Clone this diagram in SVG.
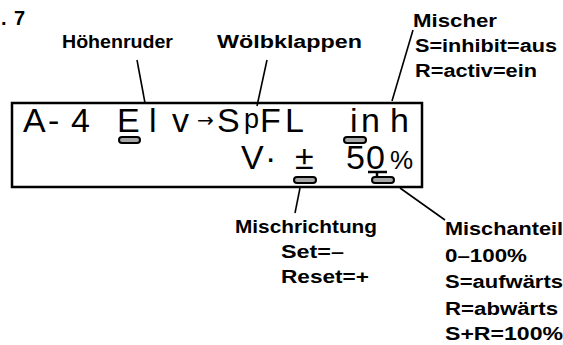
<svg xmlns="http://www.w3.org/2000/svg" width="563" height="345" viewBox="0 0 563 345">
<style>
.lbl{font-family:"Liberation Sans",Arial,sans-serif;font-size:17.5px;font-weight:bold;fill:#000}
.lcd{font-family:"Liberation Sans",Arial,sans-serif;font-size:34px;fill:#000}
.arr{font-family:"DejaVu Sans",sans-serif;font-size:20px}
.ln{stroke:#000;stroke-width:1.6;fill:none}
.mk{fill:#a8a8a8;stroke:#000;stroke-width:2}
</style>
<rect width="563" height="345" fill="#fff"/>
<text class="lbl" style="font-size:20px" x="1 8 14" y="25">. 7</text>
<g id="lcd">
<rect x="12" y="103" width="410" height="84" fill="#fff" stroke="#000" stroke-width="2.5"/>
<text class="lcd" y="132"><tspan x="23">A</tspan><tspan x="48">-</tspan><tspan x="71">4</tspan><tspan x="117">E</tspan><tspan x="149">l</tspan><tspan x="172">v</tspan><tspan class="arr" x="197" y="127">→</tspan><tspan x="217" y="132">S</tspan><tspan x="244" y="128" style="font-size:27px">p</tspan><tspan x="260" y="132">F</tspan><tspan x="285">L</tspan><tspan x="350">i</tspan><tspan x="361">n</tspan><tspan x="390">h</tspan></text>
<text class="lcd" y="169"><tspan x="241">V</tspan><tspan x="265">·</tspan><tspan x="295">±</tspan><tspan x="346">5</tspan><tspan x="366">0</tspan><tspan x="390" style="font-size:26px">%</tspan></text>
<line x1="368" y1="172" x2="387" y2="172" stroke="#000" stroke-width="2.5"/>
<line x1="377" y1="172" x2="377" y2="178" stroke="#000" stroke-width="2.5"/>
<rect class="mk" x="119" y="137" width="21" height="6" rx="3"/>
<rect class="mk" x="344" y="137" width="22" height="6" rx="3"/>
<rect class="mk" x="294" y="177" width="22" height="6" rx="3"/>
<rect class="mk" x="372" y="177" width="22" height="6" rx="3"/>
</g>
<g id="connectors">
<line class="ln" x1="137" y1="60" x2="145" y2="103"/>
<line class="ln" x1="267" y1="60" x2="257" y2="106"/>
<line class="ln" x1="413" y1="30" x2="392" y2="101"/>
<line class="ln" x1="300" y1="188" x2="295" y2="213"/>
<line class="ln" x1="400" y1="188" x2="445" y2="220"/>
</g>
<g id="hoehenruder"><text class="lbl" x="62" y="48" textLength="111" lengthAdjust="spacingAndGlyphs">Höhenruder</text></g>
<g id="woelbklappen"><text class="lbl" x="217" y="48" textLength="145" lengthAdjust="spacingAndGlyphs">Wölbklappen</text></g>
<g id="mischer">
<text class="lbl" x="413" y="27" textLength="84" lengthAdjust="spacingAndGlyphs">Mischer</text>
<text class="lbl" x="415" y="52" textLength="142" lengthAdjust="spacingAndGlyphs">S=inhibit=aus</text>
<text class="lbl" x="415" y="77" textLength="122" lengthAdjust="spacingAndGlyphs">R=activ=ein</text>
</g>
<g id="mischrichtung">
<text class="lbl" x="235" y="233" textLength="142" lengthAdjust="spacingAndGlyphs">Mischrichtung</text>
<text class="lbl" x="281" y="258" textLength="63" lengthAdjust="spacingAndGlyphs">Set=–</text>
<text class="lbl" x="281" y="283" textLength="88" lengthAdjust="spacingAndGlyphs">Reset=+</text>
</g>
<g id="mischanteil">
<text class="lbl" x="445" y="235" textLength="118" lengthAdjust="spacingAndGlyphs">Mischanteil</text>
<text class="lbl" x="445" y="262" textLength="82" lengthAdjust="spacingAndGlyphs">0–100%</text>
<text class="lbl" x="445" y="288" textLength="118" lengthAdjust="spacingAndGlyphs">S=aufwärts</text>
<text class="lbl" x="445" y="315" textLength="113" lengthAdjust="spacingAndGlyphs">R=abwärts</text>
<text class="lbl" x="445" y="340" textLength="118" lengthAdjust="spacingAndGlyphs">S+R=100%</text>
</g>
</svg>
